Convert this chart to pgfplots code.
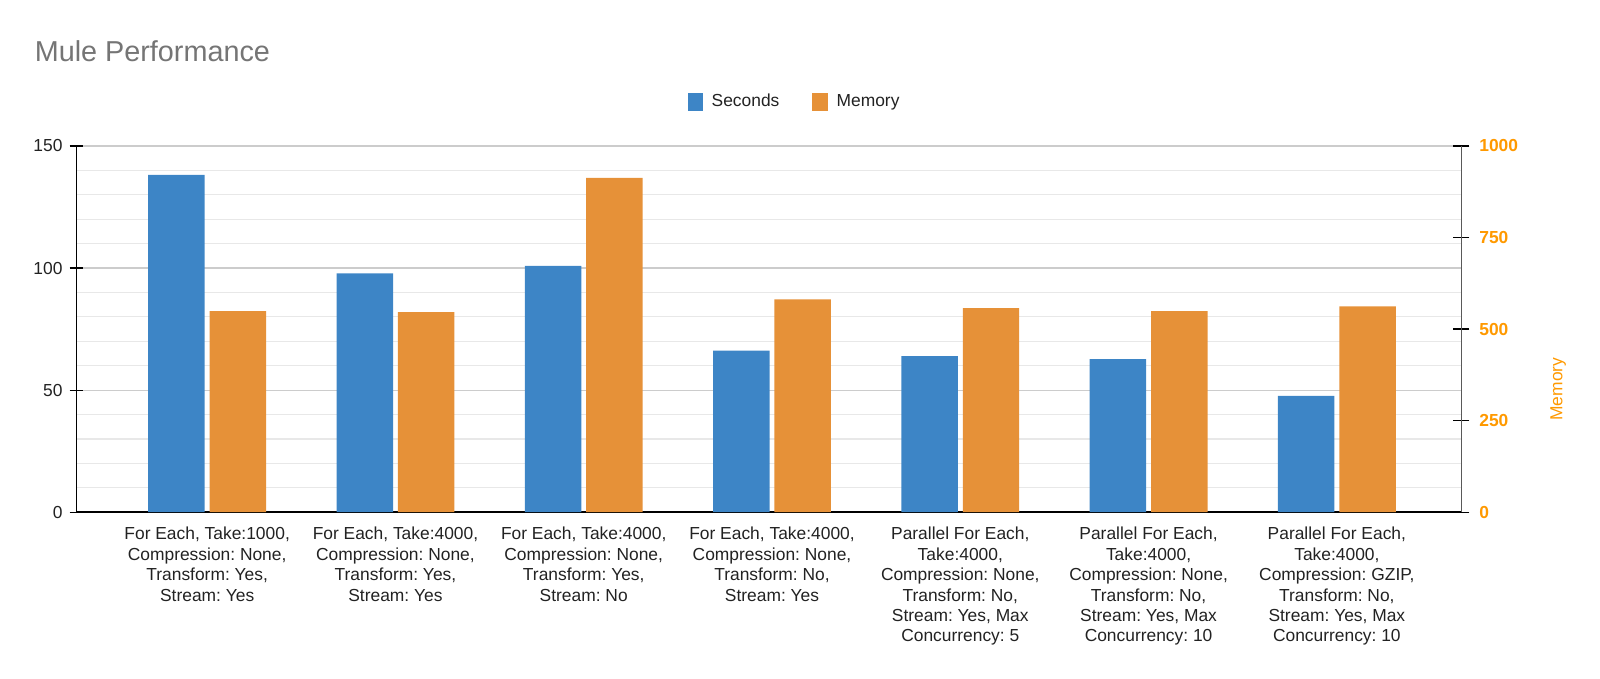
\documentclass[border=0pt]{standalone}
\usepackage{fontspec}
\setmainfont{Liberation Sans}
\usepackage{pgfplots}
\pgfplotsset{compat=1.18}
\definecolor{cblue}{HTML}{3D85C6}
\definecolor{corange}{HTML}{E69138}
\definecolor{ctick}{HTML}{FF9900}
\definecolor{ctitle}{HTML}{757575}
\definecolor{ctext}{HTML}{222222}
\newcommand{\lblfont}{\fontsize{8.7}{10.2}\selectfont\frenchspacing}
\begin{document}
\frenchspacing
\begin{tikzpicture}
\begin{axis}[
  name=ax1,
  width=692.4pt, height=183.1pt, scale only axis,
  xmin=-0.694, xmax=6.661, ymin=0, ymax=150,
  axis x line*=bottom, axis y line*=left,
  axis line style={black, line width=0.8pt},
  xtick={0,...,6},
  xticklabels={
    {For Each, Take:1000,\\Compression: None,\\Transform: Yes,\\Stream: Yes},
    {For Each, Take:4000,\\Compression: None,\\Transform: Yes,\\Stream: Yes},
    {For Each, Take:4000,\\Compression: None,\\Transform: Yes,\\Stream: No},
    {For Each, Take:4000,\\Compression: None,\\Transform: No,\\Stream: Yes},
    {Parallel For Each,\\Take:4000,\\Compression: None,\\Transform: No,\\Stream: Yes, Max\\Concurrency: 5},
    {Parallel For Each,\\Take:4000,\\Compression: None,\\Transform: No,\\Stream: Yes, Max\\Concurrency: 10},
    {Parallel For Each,\\Take:4000,\\Compression: GZIP,\\Transform: No,\\Stream: Yes, Max\\Concurrency: 10}},
  xticklabel style={align=center, font=\lblfont, text=ctext, yshift=-0.5pt},
  x tick style={draw=none},
  ytick={0,50,100,150}, minor y tick num=4,
  ymajorgrids, yminorgrids,
  major grid style={color=black!20, line width=0.6pt},
  minor grid style={color=black!9, line width=0.6pt},
  tick align=center, major tick length=7pt, minor tick length=0pt,
  y tick style={black, line width=0.6pt},
  yticklabel style={font=\lblfont, text=ctext},
  /pgf/number format/assume math mode=true,
  clip=false,
  legend style={at={(0.521,1.120)}, anchor=center, draw=none, fill=none,
    legend columns=2, font=\lblfont, text=ctext,
    /tikz/every even column/.append style={column sep=12pt},
    /tikz/every odd column/.append style={column sep=0pt},
    nodes={inner xsep=4.5pt}},
  legend image code/.code={\fill[#1] (0pt,-4.3pt) rectangle (7.6pt,4.3pt);},
]
\addplot[ybar, bar width=0.30, bar shift=-0.163, fill=cblue, draw=none]
  coordinates {(0,138.2) (1,97.8) (2,100.9) (3,66.2) (4,63.9) (5,62.7) (6,47.6)};
\addlegendentry{Seconds}
\addlegendimage{fill=corange, draw=none}
\addlegendentry{Memory}
\node[anchor=base west, font=\fontsize{14.4}{16}\selectfont, text=ctitle]
  at (rel axis cs:0,1) [xshift=-24.4pt, yshift=42.4pt] {Mule Performance};
\end{axis}
\begin{axis}[
  width=692.4pt, height=183.1pt, scale only axis,
  xmin=-0.694, xmax=6.661, ymin=0, ymax=1000,
  axis x line=none, axis y line*=right,
  axis line style={black!65, line width=0.8pt},
  ytick={0,250,500,750,1000},
  tick align=center, major tick length=8pt,
  y tick style={black, line width=0.6pt},
  yticklabel style={font=\lblfont\bfseries, text=ctick, xshift=1.5pt},
  /pgf/number format/1000 sep={},
  /pgf/number format/assume math mode=true,
  clip=false,
]
\addplot[ybar, bar width=0.30, bar shift=0.163, fill=corange, draw=none]
  coordinates {(0,549) (1,546) (2,913) (3,581) (4,557) (5,549) (6,562)};
\node[rotate=90, font=\lblfont, text=ctick] at (rel axis cs:1.070,0.336) {Memory};
\end{axis}
\path (ax1.south west) ++(-38.25pt,-83.4pt) rectangle ++(800pt,339.5pt);
\end{tikzpicture}
\end{document}
